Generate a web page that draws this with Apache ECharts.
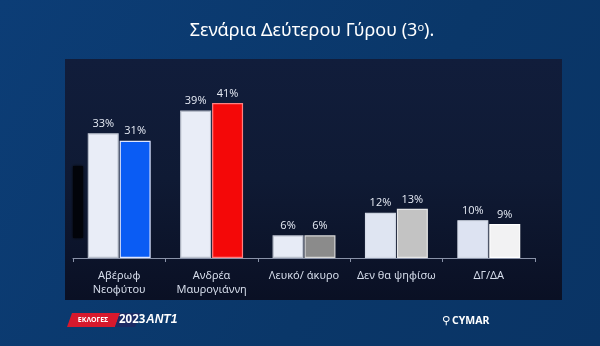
<!DOCTYPE html>
<html>
<head>
<meta charset="utf-8">
<script src="https://cdn.jsdelivr.net/npm/echarts@6/dist/echarts.min.js"></script>
<style>
  html, body { margin: 0; padding: 0; background: #0b3a70; }
  #chart { width: 600px; height: 346px; }
</style>
</head>
<body>
<div id="chart"></div>
<script>
// Survey: second-round scenario (3rd), percentages per option
const categories = ['Αβέρωφ\nΝεοφύτου', 'Ανδρέα\nΜαυρογιάννη', 'Λευκό/ άκυρο', 'Δεν θα ψηφίσω', 'ΔΓ/ΔΑ'];
const firstValues = [33, 39, 6, 12, 10];
const secondValues = [31, 41, 6, 13, 9];

const firstColors = ['#e9edf7', '#e9edf7', '#e7ebf6', '#dfe5f2', '#dde3f2'];
const firstBorders = ['#b9bfcc', '#b9bfcc', '#b9bfcc', '#d5dbe8', '#d5dbe8'];
const secondColors = ['#0a5cf4', '#f40808', '#8b8b8b', '#c3c3c3', '#f2f2f3'];
const secondBorders = ['#dfe6ff', '#ff8080', '#d8d8d8', '#e6e6e6', '#ffffff'];

const chart = echarts.init(document.getElementById('chart'), null, { renderer: 'canvas' });

function mkData(values, colors, borders) {
  return values.map((v, i) => ({
    value: v,
    itemStyle: { color: colors[i], borderColor: borders[i], borderWidth: 1.2 }
  }));
}

const valueLabel = {
  show: true,
  position: 'top',
  distance: 4,
  formatter: '{c}%',
  color: '#e6ebf5',
  fontSize: 11,
  fontFamily: 'Open Sans, sans-serif'
};

chart.setOption({
  backgroundColor: {
    type: 'linear', x: 0, y: 0, x2: 1, y2: 1,
    colorStops: [
      { offset: 0, color: '#0c3d76' },
      { offset: 0.6, color: '#0a3769' },
      { offset: 1, color: '#0a3465' }
    ]
  },
  animation: false,
  graphic: [
    // dark panel behind the plot
    {
      type: 'rect', z: -10, silent: true,
      shape: { x: 65, y: 59, width: 497, height: 241 },
      style: {
        fill: {
          type: 'linear', x: 0, y: 0, x2: 0, y2: 1,
          colorStops: [
            { offset: 0, color: '#111d3b' },
            { offset: 0.5, color: '#0f1a34' },
            { offset: 1, color: '#0a1024' }
          ]
        }
      }
    },
    // dark smudge on the left edge of the panel
    {
      type: 'rect', z: -9, silent: true,
      shape: { x: 73, y: 166, width: 10, height: 72 },
      style: { fill: '#02040a', shadowBlur: 3, shadowColor: '#000' }
    },
    // title
    {
      type: 'text', x: 312, y: 31,
      style: {
        text: '{t|Σενάρια Δεύτερου Γύρου (3}{s|ο}{t|).}',
        align: 'center', verticalAlign: 'middle',
        rich: {
          t: { fontSize: 18, fill: '#ffffff', fontFamily: 'Noto Sans, sans-serif' },
          s: { fontSize: 11, fill: '#ffffff', fontFamily: 'Noto Sans, sans-serif', verticalAlign: 'top', padding: [0, 0, 7, 0] }
        }
      }
    },
    // footer: election badge
    {
      type: 'polygon', silent: true,
      shape: { points: [[72, 313], [120, 313], [115, 327], [67, 327]] },
      style: { fill: '#d7192d' }
    },
    {
      type: 'polygon', silent: true,
      shape: { points: [[120, 313], [140, 313], [135, 327], [115, 327]] },
      style: { fill: '#1c2a63' }
    },
    {
      type: 'text', x: 93, y: 320,
      style: { text: 'ΕΚΛΟΓΕΣ', fill: '#ffffff', fontSize: 7, fontWeight: 'bold', fontFamily: 'Noto Sans, sans-serif', align: 'center', verticalAlign: 'middle' }
    },
    {
      type: 'text', x: 119, y: 320,
      style: { text: '2023', fill: '#ffffff', fontSize: 11.5, fontWeight: 'bold', fontFamily: 'Noto Sans, sans-serif', verticalAlign: 'middle' }
    },
    {
      type: 'text', x: 146, y: 320,
      style: { text: 'ANT1', fill: '#ffffff', fontSize: 12, fontWeight: 'bold', fontStyle: 'italic', fontFamily: 'Liberation Sans, sans-serif', verticalAlign: 'middle' }
    },
    // footer: pollster
    {
      type: 'text', x: 442, y: 321,
      style: { text: '⚲', fill: '#ffffff', fontSize: 11, fontFamily: 'DejaVu Sans, sans-serif', verticalAlign: 'middle' }
    },
    {
      type: 'text', x: 452, y: 321,
      style: { text: 'CYMAR', fill: '#ffffff', fontSize: 10.5, fontWeight: 'bold', fontFamily: 'Noto Sans, sans-serif', verticalAlign: 'middle' }
    }
  ],
  grid: { left: 73, right: 65, top: 69, bottom: 88, containLabel: false },
  xAxis: {
    type: 'category',
    data: categories,
    axisLine: { show: true, lineStyle: { color: '#8992a8', width: 1 } },
    axisTick: { show: true, length: 4, lineStyle: { color: '#8992a8' } },
    axisLabel: {
      color: '#d5dcea', fontSize: 11, lineHeight: 14, margin: 11,
      fontFamily: 'Noto Sans, sans-serif', interval: 0
    }
  },
  yAxis: {
    type: 'value', min: 0, max: 50,
    show: false,
    splitLine: { show: false }
  },
  series: [
    {
      type: 'bar', barWidth: 31, barGap: '3%',
      data: mkData(firstValues, firstColors, firstBorders),
      label: valueLabel
    },
    {
      type: 'bar', barWidth: 31,
      data: mkData(secondValues, secondColors, secondBorders),
      label: valueLabel
    }
  ]
});
</script>
</body>
</html>
